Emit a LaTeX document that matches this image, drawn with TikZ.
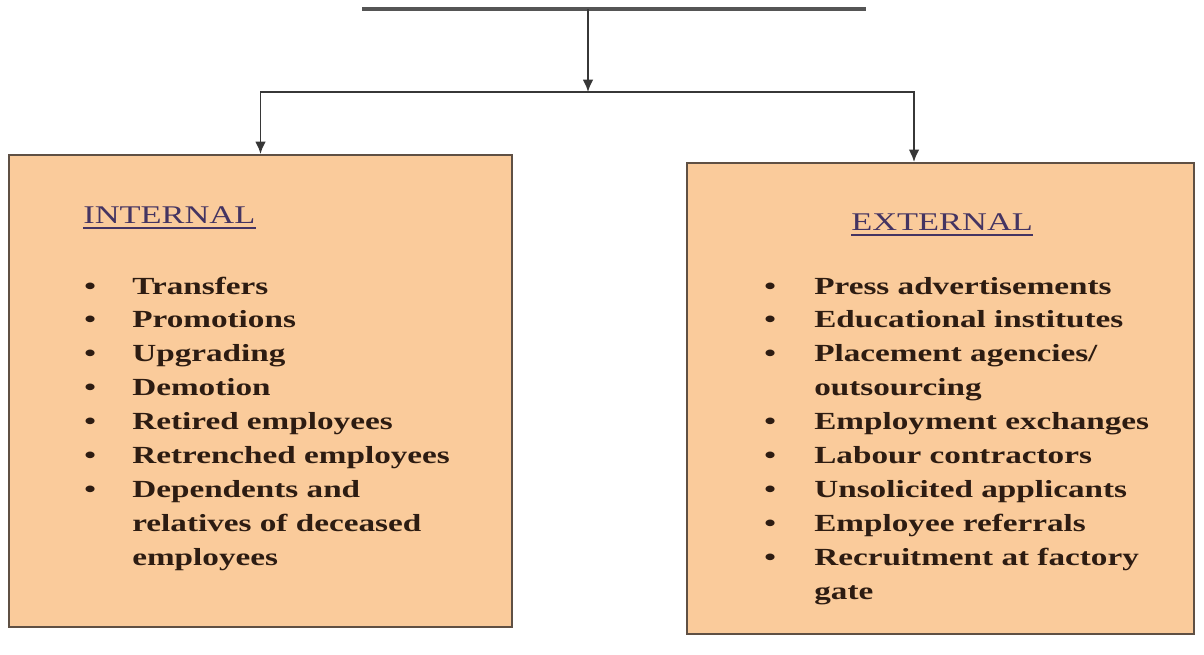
\documentclass[tikz,border=0pt]{standalone}
\usepackage{fontspec}
\setmainfont{Liberation Serif}
\newfontfamily\listfont[FakeStretch=1.35]{Liberation Serif}
\usetikzlibrary{arrows.meta}

\definecolor{peach}{RGB}{250,203,155}
\definecolor{boxline}{RGB}{95,80,68}
\definecolor{wire}{RGB}{55,55,55}
\definecolor{inkbrown}{RGB}{45,28,18}
\definecolor{headpurple}{RGB}{68,52,98}

\begin{document}
\begin{tikzpicture}[x=0.02cm,y=-0.02cm,
  every node/.style={font=\listfont\fontsize{14}{19.3}\selectfont,text=inkbrown},
  srcbox/.style={draw=boxline,line width=1.2pt,fill=peach,inner sep=0pt},
  head/.style={inner sep=0pt,anchor=base west,text=headpurple,font=\listfont\fontsize{14.5}{17}\selectfont},
  items/.style={inner sep=0pt,anchor=base west,font=\listfont\bfseries\fontsize{14}{19.3}\selectfont},
  link/.style={draw=wire,line width=1.1pt,-{Latex[length=7pt,width=6pt]}}]
  \useasboundingbox (0,0) rectangle (1204,654);

  % the two boxes
  \node[srcbox,minimum width=10.06cm,minimum height=9.44cm] (int) at (260.5,391) {};
  \node[srcbox,minimum width=10.14cm,minimum height=9.42cm] (ext) at (940.5,398.5) {};

  % bar at the top and the split
  \coordinate (barl) at (362,9);
  \coordinate (barr) at (866,9);
  \coordinate (top) at (588,9);
  \coordinate (split) at (588,92);
  \coordinate (er) at (914,92);
  \draw[draw=wire!85,line width=1.8pt] (barl) -- (barr);
  \draw[link] (top) -- (split);
  \draw[link] (split) -| (int.north);
  \draw[link] (split) -| (er |- ext.north);

  % headings
  \node[head] (inh) at (83,223) {INTERNAL};
  \node[head] (exh) at (851,230) {EXTERNAL};
  \draw[headpurple,line width=1.3pt] ([yshift=-3pt]inh.base west) -- ([yshift=-3pt]inh.base east);
  \draw[headpurple,line width=1.3pt] ([yshift=-3pt]exh.base west) -- ([yshift=-3pt]exh.base east);

  % lists
  \node[items] (inl) at (84,294) {\begin{tabular}[t]{@{}p{0.96cm}@{}l@{}}
    \textbullet & Transfers\\
    \textbullet & Promotions\\
    \textbullet & Upgrading\\
    \textbullet & Demotion\\
    \textbullet & Retired employees\\
    \textbullet & Retrenched employees\\
    \textbullet & Dependents and\\
                & relatives of deceased\\
                & employees
  \end{tabular}};
  \node[items] (exl) at (764,294) {\begin{tabular}[t]{@{}p{1cm}@{}l@{}}
    \textbullet & Press advertisements\\
    \textbullet & Educational institutes\\
    \textbullet & Placement agencies/\\
                & outsourcing\\
    \textbullet & Employment exchanges\\
    \textbullet & Labour contractors\\
    \textbullet & Unsolicited applicants\\
    \textbullet & Employee referrals\\
    \textbullet & Recruitment at factory\\
                & gate
  \end{tabular}};
\end{tikzpicture}
\end{document}
